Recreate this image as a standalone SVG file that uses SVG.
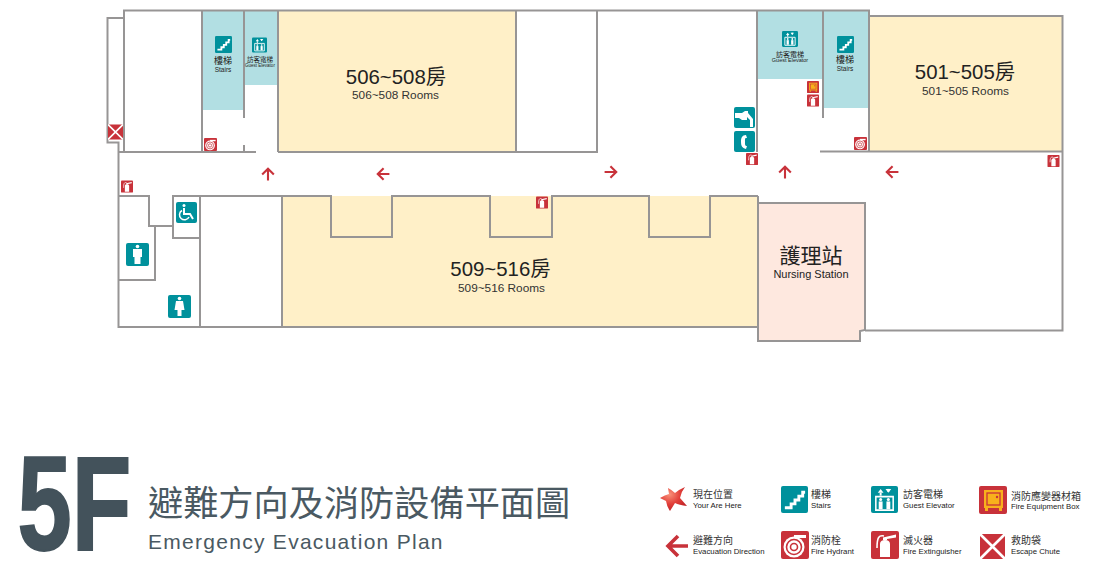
<svg xmlns="http://www.w3.org/2000/svg" width="1097" height="578" viewBox="0 0 1097 578">
<style>
text{font-family:"Liberation Sans","Noto Sans CJK TC",sans-serif;fill:#222}
.wall{fill:none;stroke:#979595;stroke-width:2;stroke-linejoin:miter}
.c{text-anchor:middle}
.rm{font-size:20.400px}.rs{font-size:11.800px;fill:#333}
.lz{font-size:10px;fill:#333}.le{font-size:7.800px;fill:#222}
.yellow{fill:#fff0c8}.teal{fill:#b2dfe3}
.t{fill:#00919c}.r{fill:#c8323a}.w{fill:#fff}
.arrow{fill:none;stroke:#c8323a;stroke-width:3.6}
</style>
<defs>
<radialGradient id="star" cx=".35" cy=".3" r=".8"><stop offset="0" stop-color="#f9917a"/><stop offset=".5" stop-color="#e2403a"/><stop offset="1" stop-color="#b81c22"/></radialGradient>
<symbol id="stairs" viewBox="0 0 28 28"><rect class="t" width="28" height="28" rx="2"/><path class="w" d="M4 24V21H9V17H13V13H17V9H21V5H25V8H24V12H20V16H16V20H12V24Z"/></symbol>
<symbol id="lift" viewBox="0 0 28 28"><rect class="t" width="28" height="28" rx="2"/><path d="M5 11H23V25H5Z" fill="none" stroke="#fff" stroke-width="1.6"/><path class="w" d="M10 3L13 7H7ZM18 7L15 3H21Z"/><rect class="w" x="9" y="7" width="2" height="3"/><rect class="w" x="17" y="3" width="2" height="3"/><circle class="w" cx="10" cy="14" r="1.6"/><circle class="w" cx="18" cy="14" r="1.6"/><rect class="w" x="8" y="16" width="4" height="8"/><rect class="w" x="16" y="16" width="4" height="8"/></symbol>
<symbol id="ext" viewBox="0 0 28 28"><rect class="r" width="28" height="28" rx="2"/><path class="w" d="M9 26V13C9 10.500 11 9 14 9C17 9 19 10.500 19 13V26Z"/><path class="w" d="M12 9V6.500L25 3.500V6.500L16 8V9Z"/><path d="M13 5C8 4 6 6 6 17" fill="none" stroke="#fff" stroke-width="1.600"/></symbol>
<symbol id="hyd" viewBox="0 0 28 28"><rect class="r" width="28" height="28" rx="2"/><circle cx="13" cy="16" r="10.500" class="w"/><circle cx="13" cy="16" r="7.500" fill="none" stroke="#c8323a" stroke-width="1.600"/><circle cx="13" cy="16" r="3.500" fill="none" stroke="#c8323a" stroke-width="1.600"/><rect class="w" x="13" y="4" width="12" height="3"/></symbol>
<symbol id="xbox" viewBox="0 0 28 28"><rect class="r" width="28" height="28"/><path d="M0 0L28 28M28 0L0 28" stroke="#fff" stroke-width="3"/></symbol>
<symbol id="fbox" viewBox="0 0 28 28"><rect class="r" width="28" height="28" rx="2"/><rect x="5" y="4" width="19" height="18" fill="#f8b01c"/><rect x="8" y="7" width="13" height="12" fill="none" stroke="#c8323a" stroke-width="1.300"/><circle cx="18" cy="11" r="1.200" fill="#c8323a"/><rect x="6" y="22" width="3" height="3" fill="#f8b01c"/><rect x="20" y="22" width="3" height="3" fill="#f8b01c"/></symbol>
<symbol id="al" viewBox="0 0 24 24"><path class="arrow" d="M23 12H3M13 2L3 12L13 22"/></symbol>
<symbol id="ar" viewBox="0 0 24 24"><path class="arrow" d="M1 12H21M11 2L21 12L11 22"/></symbol>
<symbol id="au" viewBox="0 0 24 24"><path class="arrow" d="M12 23V3M2 13L12 3L22 13"/></symbol>
</defs>
<g id="rooms">
<rect class="teal" x="202" y="10" width="42" height="100"/>
<rect class="teal" x="244" y="10" width="34" height="75"/>
<rect class="teal" x="757" y="10" width="66" height="69"/>
<rect class="teal" x="823" y="10" width="46" height="98"/>
<rect class="yellow" x="278" y="10" width="238" height="142"/>
<rect class="yellow" x="869" y="16" width="193" height="135"/>
<rect class="yellow" x="282" y="196" width="476" height="131"/>
<path d="M758 203H865V330H860V341H758Z" fill="#fee8df"/>
</g>
<g id="walls" class="wall">
<path d="M124 152V10.500H869V152"/>
<path d="M124 18H107.500V142.500H118.500V327H758"/>
<path d="M118 152H256M278 152H597V10M757 10V152M516 10V152M202 10V152M244 10V118M244 145V152M278 10V152"/>
<path d="M823 10V118M820 151.500H1062M869 16H1062.500V330.500H865"/>
<path d="M118 196H149V226H173M155 226V280H118M173 196H200V238H173ZM200 196V327M282 196V327"/>
<path d="M200 196H331V237H392V196H490V237H552V196H649V237H710V196H758"/>
<path d="M758 196V203M758 203H865V330L860 331V341H758Z"/>
</g>
<g id="connectors">
<use href="#au" x="261" y="167" width="14" height="14"/>
<use href="#al" x="376" y="167" width="14" height="14"/>
<use href="#ar" x="604" y="165" width="14" height="14"/>
<use href="#au" x="778" y="165" width="14" height="14"/>
<use href="#al" x="885" y="165" width="14" height="14"/>
</g>
<g id="labels-rooms">
<g id="room-506"><text class="c rm" x="396" y="84">506~508房</text><text class="c rs" x="395.500" y="99">506~508 Rooms</text></g>
<g id="room-501"><text class="c rm" x="965" y="79">501~505房</text><text class="c rs" x="965.500" y="95">501~505 Rooms</text></g>
<g id="room-509"><text class="c rm" x="500.500" y="276">509~516房</text><text class="c rs" x="501.500" y="292">509~516 Rooms</text></g>
<g id="nursing"><text class="c" x="811" y="263" font-size="21">護理站</text><text class="c" x="811" y="278" font-size="11">Nursing Station</text></g>
</g>
<g id="stairs-left"><use href="#stairs" x="215" y="36" width="17" height="17"/><text class="c" x="223" y="64" font-size="9">樓梯</text><text class="c" x="223" y="72" font-size="6.500">Stairs</text></g>
<g id="lift-left"><use href="#lift" x="252" y="37" width="15" height="16"/><text class="c" x="260" y="62" font-size="6.500">訪客電梯</text><text class="c" x="260" y="67" font-size="4.500">Guest Elevator</text></g>
<g id="lift-right"><use href="#lift" x="782" y="31" width="16" height="16"/><text class="c" x="790" y="57" font-size="7">訪客電梯</text><text class="c" x="790" y="62" font-size="5.500">Guest Elevator</text></g>
<g id="stairs-right"><use href="#stairs" x="837" y="36" width="17" height="17"/><text class="c" x="845" y="63" font-size="9">樓梯</text><text class="c" x="845" y="71" font-size="6.500">Stairs</text></g>
<g id="escape"><use href="#xbox" x="108" y="124" width="15" height="16"/></g>
<g id="hydrant-1"><use href="#hyd" x="204" y="138" width="13" height="13"/></g>
<g id="hydrant-2"><use href="#hyd" x="854" y="137" width="13" height="13"/></g>
<g id="ext-1"><use href="#ext" x="121" y="180" width="12" height="13"/></g>
<g id="ext-2"><use href="#ext" x="746" y="153" width="12" height="12"/></g>
<g id="ext-3"><use href="#ext" x="807" y="94" width="12" height="13"/></g>
<g id="ext-4"><use href="#ext" x="1047" y="155" width="13" height="12"/></g>
<g id="ext-5"><use href="#ext" x="536" y="196" width="12" height="13"/></g>
<g id="fbox-1"><use href="#fbox" x="807" y="81" width="12" height="12"/></g>
<g id="fountain"><rect class="t" x="734" y="107" width="21" height="21" rx="2"/><path class="w" d="M735 113H742L745 111H748V113L753 119V127H750V120L747 117V120L742 120L739 118H735Z"/></g>
<g id="phone"><rect class="t" x="734" y="131" width="21" height="21" rx="2"/><path class="w" d="M746 135C742 135 741 138 741 141.500C741 146 742 148 746 149L747 146C745 146 745 145 745 141.500C745 138 745 138 747 138Z"/></g>
<g id="wheelchair"><rect class="t" x="176" y="202" width="21" height="21" rx="2"/><circle class="w" cx="184" cy="205.500" r="1.500"/><path d="M184 208V214H190L193 219" fill="none" stroke="#fff" stroke-width="2"/><path d="M182 210.500A5 5 0 1 0 189 217" fill="none" stroke="#fff" stroke-width="1.500"/></g>
<g id="man"><rect class="t" x="126" y="243" width="23" height="23" rx="2"/><circle class="w" cx="137.500" cy="246.500" r="1.800"/><path class="w" d="M133 249H142V257H140.500V264H134.500V257H133Z"/></g>
<g id="woman"><rect class="t" x="168" y="295" width="23" height="23" rx="2"/><circle class="w" cx="179.500" cy="298.500" r="1.800"/><path class="w" d="M176 301H183L184.500 310H181.500V316H177.500V310H174.500Z"/></g>
<g id="title">
<text transform="translate(17.500,549.500) scale(.727,1)" font-size="134" font-weight="700" style="fill:#43525b;stroke:#43525b;stroke-width:2">5F</text>
<text x="148" y="516" font-size="35.200" style="fill:#4a5962">避難方向及消防設備平面圖</text>
<text x="148" y="549" font-size="21" letter-spacing="1.280" style="fill:#4a5962">Emergency Evacuation Plan</text>
</g>
<g id="legend-here"><path d="M685 487Q681 492 680 498L687 506Q679 505 675 503L670 511Q667 507 666 501L660 498Q665 495 669 494L668 488Q672 490 675 493Q680 489 685 487Z" fill="url(#star)"/><text class="lz" x="693" y="498">現在位置</text><text class="le" x="693" y="508">Your Are Here</text></g>
<g id="legend-stairs"><use href="#stairs" x="781" y="486" width="27" height="27"/><text class="lz" x="811" y="498">樓梯</text><text class="le" x="811" y="508">Stairs</text></g>
<g id="legend-lift"><use href="#lift" x="871" y="486" width="27" height="27"/><text class="lz" x="903" y="498">訪客電梯</text><text class="le" x="903" y="508">Guest Elevator</text></g>
<g id="legend-box"><use href="#fbox" x="979" y="486" width="28" height="28"/><text class="lz" x="1011" y="500">消防應變器材箱</text><text class="le" x="1011" y="509">Fire Equipment Box</text></g>
<g id="legend-arrow"><use href="#al" x="665" y="534" width="24" height="24"/><text class="lz" x="693" y="544">避難方向</text><text class="le" x="693" y="554">Evacuation Direction</text></g>
<g id="legend-hyd"><use href="#hyd" x="781" y="531" width="28" height="28"/><text class="lz" x="811" y="544">消防栓</text><text class="le" x="811" y="554">Fire Hydrant</text></g>
<g id="legend-ext"><use href="#ext" x="871" y="531" width="28" height="28"/><text class="lz" x="903" y="544">滅火器</text><text class="le" x="903" y="554">Fire Extinguisher</text></g>
<g id="legend-x"><use href="#xbox" x="980" y="534" width="25" height="25"/><text class="lz" x="1011" y="544">救助袋</text><text class="le" x="1011" y="554">Escape Chute</text></g>
</svg>
